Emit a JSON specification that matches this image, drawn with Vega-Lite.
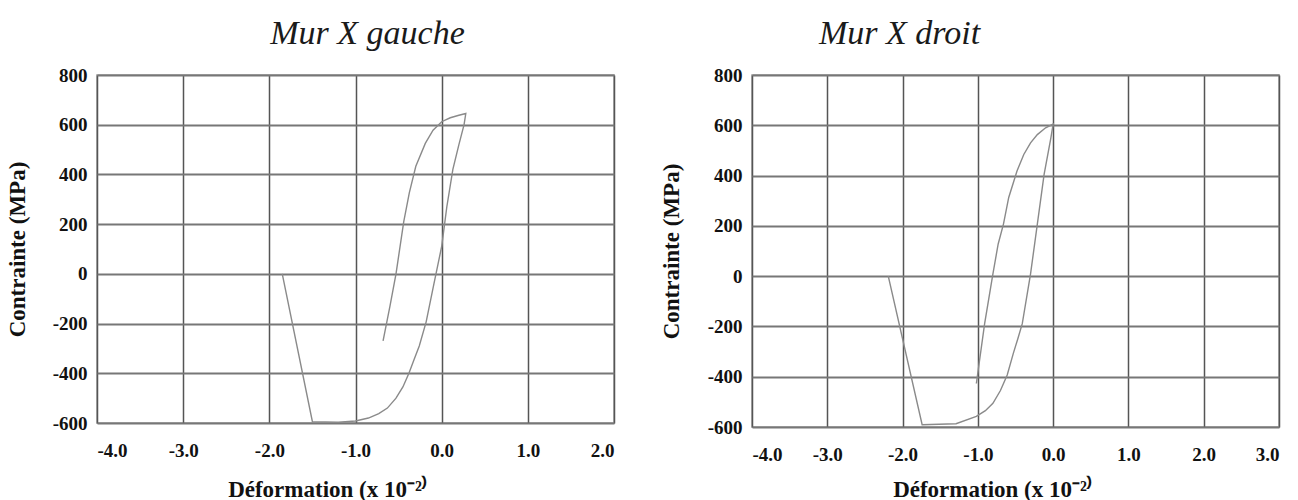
{
  "$schema": "https://vega.github.io/schema/vega-lite/v6.json",
  "padding": {"left": 5, "top": 16, "right": 5, "bottom": 0},
  "background": "white",
  "bounds": "flush",
  "spacing": 138,
  "config": {
    "view": {"stroke": "#999999", "strokeWidth": 1.5},
    "title": {"font": "Liberation Serif", "fontStyle": "italic", "fontWeight": "normal", "fontSize": 34, "color": "#1a1a1a", "offset": 15},
    "axis": {
      "grid": true,
      "domain": false,
      "ticks": false,
      "labelFont": "Liberation Serif",
      "labelFontWeight": "bold",
      "labelFontSize": 19,
      "labelColor": "#111111",
      "titleFont": "Liberation Serif",
      "titleFontWeight": "bold",
      "titleFontSize": 23,
      "titleColor": "#111111"
    },
    "axisX": {"gridColor": "#555555", "gridWidth": 1.5, "labelPadding": 18},
    "axisY": {"gridColor": "#777777", "gridWidth": 2, "labelPadding": 10}
  },
  "hconcat": [
    {
      "width": 517,
      "height": 348,
      "title": {"text": "Mur X gauche", "dx": 12},
      "data": {"values": [
        {"i": 1, "d": -0.68, "s": -270},
        {"i": 2, "d": -0.6, "s": -130},
        {"i": 3, "d": -0.53, "s": 0},
        {"i": 4, "d": -0.44, "s": 210},
        {"i": 5, "d": -0.375, "s": 327},
        {"i": 6, "d": -0.3, "s": 433},
        {"i": 7, "d": -0.19, "s": 525},
        {"i": 8, "d": -0.1, "s": 578},
        {"i": 9, "d": 0.0, "s": 612},
        {"i": 10, "d": 0.1, "s": 628},
        {"i": 11, "d": 0.2, "s": 638},
        {"i": 12, "d": 0.28, "s": 645},
        {"i": 13, "d": 0.26, "s": 600},
        {"i": 14, "d": 0.2, "s": 520},
        {"i": 15, "d": 0.13, "s": 420},
        {"i": 16, "d": 0.06, "s": 270},
        {"i": 17, "d": 0.0, "s": 110},
        {"i": 18, "d": -0.09, "s": -40},
        {"i": 19, "d": -0.18, "s": -193},
        {"i": 20, "d": -0.26, "s": -290},
        {"i": 21, "d": -0.32, "s": -345},
        {"i": 22, "d": -0.38, "s": -400},
        {"i": 23, "d": -0.45, "s": -455},
        {"i": 24, "d": -0.53, "s": -500},
        {"i": 25, "d": -0.63, "s": -540},
        {"i": 26, "d": -0.73, "s": -562},
        {"i": 27, "d": -0.85, "s": -580},
        {"i": 28, "d": -1.0, "s": -592},
        {"i": 29, "d": -1.2, "s": -597},
        {"i": 30, "d": -1.5, "s": -595},
        {"i": 31, "d": -1.85, "s": 0}
      ]},
      "mark": {"type": "line", "color": "#8a8a8a", "strokeWidth": 1.4},
      "encoding": {
        "x": {
          "field": "d", "type": "quantitative",
          "scale": {"domain": [-4, 2], "nice": false, "zero": false},
          "axis": {
            "values": [-4, -3, -2, -1, 0, 1, 2],
            "labelExpr": "datum.value < 0 ? '-' + format(-datum.value, '.1f') : format(datum.value, '.1f')",
            "title": "Déformation (x 10⁻²⁾",
            "titleX": 230, "titleY": 73, "titleBaseline": "alphabetic"
          }
        },
        "y": {
          "field": "s", "type": "quantitative",
          "scale": {"domain": [-600, 800], "nice": false, "zero": false},
          "axis": {
            "values": [-600, -400, -200, 0, 200, 400, 600, 800],
            "labelExpr": "datum.value < 0 ? '-' + format(-datum.value, 'd') : format(datum.value, 'd')",
            "title": "Contrainte (MPa)",
            "titleX": -80, "titleY": 174, "titleBaseline": "middle"
          }
        },
        "order": {"field": "i", "type": "quantitative"}
      }
    },
    {
      "width": 527,
      "height": 352,
      "title": {"text": "Mur X droit", "dx": -116},
      "data": {"values": [
        {"i": 1, "d": -1.02, "s": -427},
        {"i": 2, "d": -0.91, "s": -189},
        {"i": 3, "d": -0.8, "s": 9},
        {"i": 4, "d": -0.73, "s": 128},
        {"i": 5, "d": -0.66, "s": 207},
        {"i": 6, "d": -0.59, "s": 313},
        {"i": 7, "d": -0.48, "s": 418},
        {"i": 8, "d": -0.39, "s": 484},
        {"i": 9, "d": -0.3, "s": 530},
        {"i": 10, "d": -0.21, "s": 563},
        {"i": 11, "d": -0.1, "s": 590},
        {"i": 12, "d": 0.0, "s": 605},
        {"i": 13, "d": -0.03, "s": 550},
        {"i": 14, "d": -0.12, "s": 405},
        {"i": 15, "d": -0.21, "s": 207},
        {"i": 16, "d": -0.3, "s": 9},
        {"i": 17, "d": -0.41, "s": -189},
        {"i": 18, "d": -0.47, "s": -250},
        {"i": 19, "d": -0.53, "s": -308},
        {"i": 20, "d": -0.61, "s": -393},
        {"i": 21, "d": -0.7, "s": -455},
        {"i": 22, "d": -0.8, "s": -506},
        {"i": 23, "d": -0.9, "s": -535},
        {"i": 24, "d": -1.02, "s": -558},
        {"i": 25, "d": -1.29, "s": -587},
        {"i": 26, "d": -1.74, "s": -591},
        {"i": 27, "d": -2.19, "s": 0}
      ]},
      "mark": {"type": "line", "color": "#8a8a8a", "strokeWidth": 1.4},
      "encoding": {
        "x": {
          "field": "d", "type": "quantitative",
          "scale": {"domain": [-4, 3], "nice": false, "zero": false},
          "axis": {
            "values": [-4, -3, -2, -1, 0, 1, 2, 3],
            "labelExpr": "datum.value < 0 ? '-' + format(-datum.value, '.1f') : format(datum.value, '.1f')",
            "title": "Déformation (x 10⁻²⁾",
            "titleX": 240, "titleY": 69, "titleBaseline": "alphabetic"
          }
        },
        "y": {
          "field": "s", "type": "quantitative",
          "scale": {"domain": [-600, 800], "nice": false, "zero": false},
          "axis": {
            "values": [-600, -400, -200, 0, 200, 400, 600, 800],
            "labelExpr": "datum.value < 0 ? '-' + format(-datum.value, 'd') : format(datum.value, 'd')",
            "title": "Contrainte (MPa)",
            "titleX": -81, "titleY": 176, "titleBaseline": "middle"
          }
        },
        "order": {"field": "i", "type": "quantitative"}
      }
    }
  ]
}
